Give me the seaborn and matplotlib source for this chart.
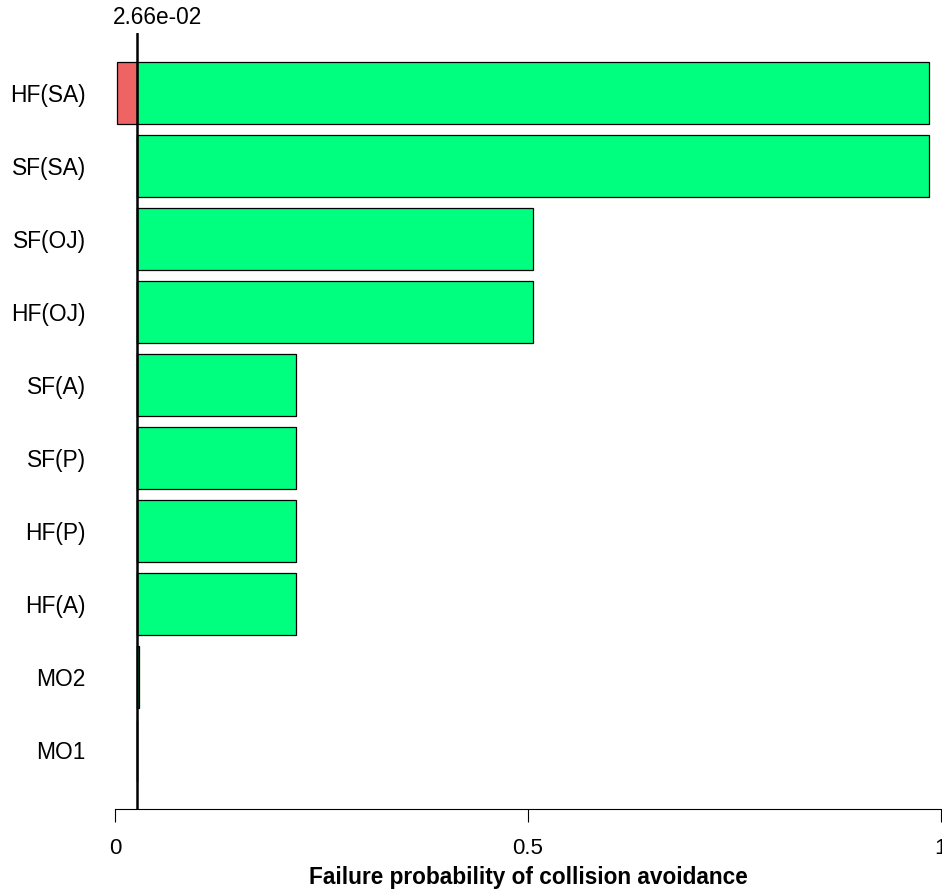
import matplotlib
matplotlib.use("Agg")
import matplotlib.pyplot as plt
import seaborn as sns
import pandas as pd
import numpy as np

# Tornado diagram: each factor's low/high failure probability around the base case
factors = ["HF(SA)", "SF(SA)", "SF(OJ)", "HF(OJ)", "SF(A)", "SF(P)", "HF(P)", "HF(A)", "MO2", "MO1"]
base_value = 0.0266
low_values = [0.003, 0.0266, 0.0266, 0.0266, 0.0266, 0.0266, 0.0266, 0.0266, 0.0266, 0.0266]
high_values = [0.985, 0.985, 0.506, 0.506, 0.219, 0.219, 0.219, 0.219, 0.0290, 0.0268]
tick_values = [0, 0.5, 1]
tick_labels = ["0", "0.5", "1"]

sns.set_theme(style="white")
plt.rcParams["font.family"] = ["Liberation Sans", "DejaVu Sans"]
plt.rcParams["text.color"] = "black"
plt.rcParams["axes.labelcolor"] = "black"
plt.rcParams["xtick.color"] = "black"
plt.rcParams["ytick.color"] = "black"

df = pd.DataFrame({"factor": factors, "low": low_values, "high": high_values})
df["up"] = df["high"] - base_value
df["down"] = base_value - df["low"]

fig = plt.figure(figsize=(9.42, 8.9), dpi=100)
ax = fig.add_axes([115 / 942, 1 - 809 / 890, (941 - 115) / 942, (809 - 33) / 890])

bar_h = 0.836
sns.barplot(data=df, x="up", y="factor", order=factors, orient="y", ax=ax,
            color="#00FF7F", saturation=1, width=bar_h, errorbar=None,
            edgecolor="black", linewidth=0.9, left=base_value)
sns.barplot(data=df, x="down", y="factor", order=factors, orient="y", ax=ax,
            color="#EE6363", saturation=1, width=bar_h, errorbar=None,
            edgecolor="black", linewidth=0.9, left=df["low"].values)

ax.axvline(base_value, color="black", lw=1.8, zorder=10)
ax.text(-0.002, 1.005, f"{base_value:.2e}", transform=ax.get_xaxis_transform(),
        ha="left", va="bottom", fontsize=16.3, color="black")

ax.set_xlim(0, 1)
ax.set_ylim(9.808, -0.822)
ax.set_xticks(tick_values)
ax.set_xticklabels(tick_labels, fontsize=16)
ax.tick_params(axis="x", bottom=True, length=9, width=0.8, pad=12, colors="black")
ax.tick_params(axis="y", left=False, length=0, pad=21, labelsize=16.4, colors="black")
ax.set_ylabel("")
ax.set_xlabel("Failure probability of collision avoidance", fontsize=16.3,
              fontweight="bold", labelpad=5, color="black")
for side in ["left", "top", "right"]:
    ax.spines[side].set_visible(False)
ax.spines["bottom"].set_color("black")
ax.spines["bottom"].set_linewidth(0.8)
ax.set_facecolor("white")
ax.patch.set_visible(False)

fig.savefig("out.png", dpi=100)
